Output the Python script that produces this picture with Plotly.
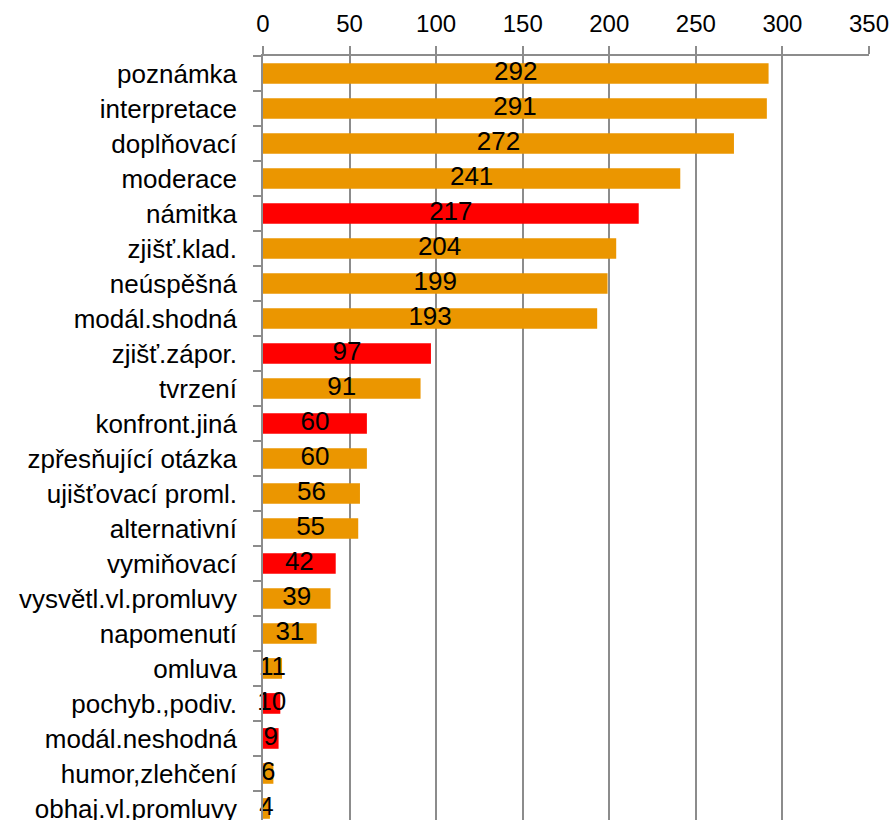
import plotly.graph_objects as go

categories = ["poznámka", "interpretace", "doplňovací", "moderace", "námitka",
              "zjišť.klad.", "neúspěšná", "modál.shodná", "zjišť.zápor.", "tvrzení",
              "konfront.jiná", "zpřesňující otázka", "ujišťovací proml.", "alternativní",
              "vymiňovací", "vysvětl.vl.promluvy", "napomenutí", "omluva",
              "pochyb.,podiv.", "modál.neshodná", "humor,zlehčení", "obhaj.vl.promluvy"]
values = [292, 291, 272, 241, 217, 204, 199, 193, 97, 91, 60, 60, 56, 55, 42, 39, 31, 11, 10, 9, 6, 4]
highlighted = ["námitka", "zjišť.zápor.", "konfront.jiná", "vymiňovací",
               "pochyb.,podiv.", "modál.neshodná"]
x_ticks = [0, 50, 100, 150, 200, 250, 300, 350]

ORANGE = "#EB9600"
RED = "#FF0000"
GRAY = "#8C8C8C"
FONT = "Liberation Sans, Arial, sans-serif"

colors = [RED if c in highlighted else ORANGE for c in categories]

fig = go.Figure()
fig.add_trace(go.Bar(
    x=values, y=categories, orientation="h",
    marker=dict(color=colors, line=dict(width=0)),
    hoverinfo="skip", showlegend=False,
))
fig.add_trace(go.Scatter(
    x=[v / 2 for v in values], y=categories, mode="text",
    text=[str(v) for v in values],
    textposition="middle center",
    textfont=dict(family=FONT, size=26, color="black"),
    cliponaxis=False, hoverinfo="skip", showlegend=False,
))

fig.update_layout(
    width=893, height=820,
    margin=dict(l=263, r=24, t=56, b=0, pad=0, autoexpand=False),
    paper_bgcolor="white", plot_bgcolor="white",
    bargap=0.41,
    font=dict(family=FONT, color="black"),
    xaxis=dict(
        side="top", range=[0, 350], tickvals=x_ticks,
        ticks="outside", ticklen=8, tickcolor=GRAY, tickwidth=1.5,
        showline=True, linecolor=GRAY, linewidth=1.5,
        showgrid=True, gridcolor=GRAY, gridwidth=1.5,
        zeroline=False, automargin=False,
        tickfont=dict(family=FONT, size=24, color="black"),
        ticklabelstandoff=5,
    ),
    yaxis=dict(
        type="category", categoryorder="array", categoryarray=categories,
        range=[21.33, -0.5],
        tickson="boundaries", ticks="outside", ticklen=8,
        tickcolor=GRAY, tickwidth=1.5,
        showline=True, linecolor=GRAY, linewidth=1.5,
        showgrid=False, zeroline=False, automargin=False,
        tickfont=dict(family=FONT, size=26, color="black"),
        ticklabelstandoff=19,
    ),
)

fig.write_html(
    "out.html",
    config={"displayModeBar": False},
    post_script="document.body.style.margin='0';document.body.style.overflow='hidden';",
)
